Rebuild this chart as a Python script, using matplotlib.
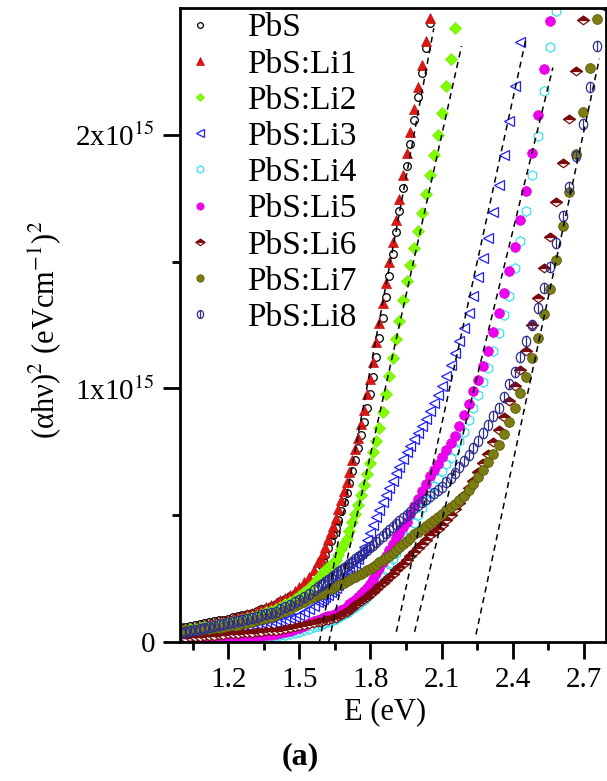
import numpy as np
import matplotlib
matplotlib.use("Agg")
import matplotlib.pyplot as plt
from matplotlib.path import Path
from matplotlib.legend_handler import HandlerTuple

plt.rcParams['font.family'] = ['Liberation Serif', 'DejaVu Serif']
plt.rcParams['mathtext.fontset'] = 'stix'

# ---------------- data (y in units of 1e15 eV^2 cm^-2) ----------------
energy = [1.00, 1.02, 1.04, 1.06, 1.08, 1.10, 1.12, 1.14, 1.16, 1.18,
          1.20, 1.22, 1.24, 1.26, 1.28, 1.30, 1.32, 1.34, 1.36, 1.38,
          1.40, 1.42, 1.44, 1.46, 1.48, 1.50, 1.52, 1.54, 1.56, 1.58,
          1.590, 1.600, 1.610, 1.621, 1.632, 1.642, 1.653, 1.664, 1.676, 1.687,
          1.699, 1.710, 1.722, 1.734, 1.746, 1.759, 1.771, 1.784, 1.797, 1.810,
          1.824, 1.837, 1.851, 1.865, 1.879, 1.893, 1.908, 1.922, 1.938, 1.953,
          1.968, 1.984, 2.000, 2.016, 2.033, 2.050, 2.067, 2.084, 2.102, 2.120,
          2.138, 2.157, 2.175, 2.195, 2.214, 2.234, 2.255, 2.275, 2.296, 2.318,
          2.340, 2.362, 2.385, 2.408, 2.431, 2.455, 2.480, 2.505, 2.531, 2.557,
          2.583, 2.611, 2.638, 2.667, 2.696, 2.725, 2.756, 2.787]

pbs = [.058, .061, .064, .068, .071, .074, .078, .081, .085, .088,
       .092, .097, .101, .106, .110, .115, .122, .129, .136, .143,
       .150, .160, .170, .180, .190, .200, .218, .236, .260, .290,
       .305, .320, .344, .370, .397, .421, .449, .482, .518, .551,
       .587, .628, .674, .719, .765, .818, .868, .923, .977, 1.046,
       1.124, 1.197, 1.276, 1.360, 1.444, 1.528, 1.616, 1.698, 1.790, 1.877,
       1.964, 2.057, 2.150, 2.243, 2.341, 2.440]

pbs_li1 = [.050, .054, .057, .061, .064, .068, .072, .076, .080, .084,
           .088, .093, .099, .104, .110, .115, .123, .131, .139, .147,
           .155, .165, .175, .187, .201, .215, .235, .255, .282, .316,
           .333, .350, .376, .405, .433, .459, .489, .523, .561, .595,
           .632, .672, .716, .761, .805, .861, .916, .976, 1.036, 1.106,
           1.184, 1.257, 1.336, 1.417, 1.498, 1.579, 1.666, 1.748, 1.840, 1.927,
           2.011, 2.100, 2.190, 2.276, 2.368, 2.460]

pbs_li2 = [.045, .048, .050, .053, .055, .058, .061, .064, .068, .071,
           .074, .079, .084, .088, .093, .098, .104, .111, .117, .124,
           .130, .139, .148, .158, .169, .180, .196, .212, .231, .253,
           .264, .275, .284, .294, .304, .313, .325, .345, .367, .387,
           .408, .438, .472, .505, .539, .580, .619, .662, .705, .748,
           .794, .842, .905, .977, 1.048, 1.120, 1.196, 1.267, 1.349, 1.423,
           1.486, 1.553, 1.620, 1.690, 1.765, 1.840, 1.919, 1.998, 2.087, 2.193,
           2.299, 2.420]

pbs_li3 = [.020, .022, .024, .026, .028, .030, .032, .035, .037, .040,
           .042, .045, .047, .050, .052, .055, .059, .063, .067, .071,
           .075, .081, .087, .093, .099, .105, .117, .129, .142, .156,
           .163, .170, .178, .187, .196, .204, .213, .224, .236, .247,
           .259, .275, .293, .311, .329, .352, .376, .403, .428, .462,
           .493, .522, .552, .580, .608, .636, .665, .692, .722, .750,
           .774, .799, .825, .852, .881, .910, .942, .975, 1.010, 1.050,
           1.092, 1.140, 1.185, 1.237, 1.296, 1.364, 1.438, 1.513, 1.593, 1.696,
           1.802, 1.920, 2.053, 2.193, 2.365]

pbs_li4 = [.004, .004, .005, .005, .006, .006, .007, .008, .008, .009,
           .010, .011, .012, .013, .014, .015, .016, .018, .019, .021,
           .022, .026, .029, .033, .036, .040, .046, .052, .058, .064,
           .067, .070, .074, .078, .083, .087, .092, .097, .103, .109,
           .115, .123, .131, .139, .147, .157, .167, .177, .188, .204,
           .224, .242, .261, .284, .306, .329, .351, .371, .393, .415,
           .442, .471, .500, .529, .559, .590, .617, .644, .673, .700,
           .727, .758, .792, .830, .874, .922, .973, 1.025, 1.079, 1.148,
           1.218, 1.290, 1.366, 1.473, 1.580, 1.700, 1.842, 1.994, 2.171, 2.348,
           2.490]

pbs_li5 = [.005, .006, .006, .007, .007, .008, .009, .009, .010, .011,
           .012, .014, .015, .017, .018, .020, .022, .024, .026, .028,
           .030, .035, .040, .045, .050, .055, .064, .073, .081, .088,
           .091, .095, .098, .101, .104, .108, .112, .118, .126, .132,
           .139, .148, .158, .167, .177, .190, .201, .214, .227, .247,
           .271, .293, .317, .339, .362, .385, .411, .431, .453, .474,
           .506, .535, .565, .595, .624, .655, .679, .703, .728, .756,
           .783, .814, .853, .895, .940, .989, 1.034, 1.090, 1.149, 1.223,
           1.298, 1.376, 1.463, 1.557, 1.666, 1.780, 1.930, 2.080, 2.260, 2.450]

pbs_li6 = [.015, .016, .018, .019, .021, .022, .024, .025, .027, .028,
           .030, .031, .033, .034, .036, .037, .039, .040, .042, .043,
           .045, .048, .052, .055, .059, .062, .066, .070, .074, .078,
           .080, .082, .085, .087, .090, .093, .096, .102, .108, .113,
           .120, .127, .135, .144, .152, .161, .170, .179, .188, .198,
           .209, .220, .231, .244, .256, .269, .282, .295, .309, .323,
           .338, .354, .370, .386, .403, .420, .434, .447, .462, .482,
           .502, .525, .550, .578, .606, .636, .669, .705, .743, .788,
           .834, .886, .949, 1.010, 1.073, 1.146, 1.251, 1.358, 1.474, 1.597,
           1.735, 1.890, 2.061, 2.253, 2.452]

pbs_li7 = [.045, .046, .047, .048, .049, .050, .052, .055, .057, .060,
           .062, .066, .069, .073, .076, .080, .085, .090, .095, .100,
           .105, .114, .123, .132, .141, .150, .159, .168, .177, .186,
           .191, .195, .200, .204, .209, .214, .219, .224, .229, .234,
           .240, .245, .251, .257, .263, .270, .276, .282, .289, .297,
           .305, .314, .323, .332, .341, .350, .361, .373, .386, .399,
           .412, .426, .435, .446, .458, .470, .482, .494, .506, .519,
           .532, .546, .560, .576, .598, .624, .652, .680, .709, .742,
           .778, .819, .868, .921, .981, 1.045, 1.120, 1.198, 1.292, 1.392,
           1.508, 1.640, 1.775, 1.924, 2.088, 2.265, 2.457]

pbs_li8 = [.035, .039, .043, .047, .051, .055, .059, .063, .067, .071,
           .075, .079, .083, .087, .091, .095, .100, .105, .110, .115,
           .120, .129, .138, .147, .156, .165, .178, .191, .204, .217,
           .224, .230, .237, .245, .252, .259, .267, .275, .283, .291,
           .299, .308, .317, .326, .335, .344, .353, .363, .373, .383,
           .395, .406, .418, .430, .442, .454, .466, .478, .490, .502,
           .514, .527, .540, .551, .563, .575, .587, .599, .612, .630,
           .648, .668, .690, .714, .738, .764, .793, .824, .856, .890,
           .924, .967, 1.018, 1.064, 1.125, 1.188, 1.250, 1.316, 1.396, 1.478,
           1.573, 1.681, 1.795, 1.917, 2.043, 2.190, 2.351, 2.510]

labels = ['PbS', 'PbS:Li1', 'PbS:Li2', 'PbS:Li3', 'PbS:Li4',
          'PbS:Li5', 'PbS:Li6', 'PbS:Li7', 'PbS:Li8']

# linear (Tauc) fits: start/end energy and value
fit_e0 = [1.585, 1.624, 1.909, 1.986, 2.245]
fit_y0 = [0.00, 0.00, 0.04, 0.04, 0.03]
fit_e1 = [2.067, 2.184, 2.456, 2.569, 2.765]
fit_y1 = [2.42, 2.35, 2.38, 2.265, 2.30]

xticks = [1.2, 1.5, 1.8, 2.1, 2.4, 2.7]
xtick_labels = ['1.2', '1.5', '1.8', '2.1', '2.4', '2.7']
xminor = [1.05, 1.35, 1.65, 1.95, 2.25, 2.55]
yticks = [0.0, 1.0, 2.0]
ytick_labels = ['0', r'1x10$^{15}$', r'2x10$^{15}$']
yminor = [0.5, 1.5]

SCALE = 1e15

# ---------------- figure ----------------
W, H = 607, 781
fig = plt.figure(figsize=(W / 100, H / 100), dpi=100)
ax = fig.add_axes([180 / W, 1 - 642 / H, 426 / W, 634 / H])

E = np.array(energy)


def pts(vals):
    v = np.array(vals) * SCALE
    return E[:len(v)], v


# custom markers
circ = Path.unit_circle()
theta_verts = np.vstack([circ.vertices * np.array([0.8, 1.0]), [[0, -1], [0, 1]]])
theta_codes = np.concatenate([circ.codes, [Path.MOVETO, Path.LINETO]])
theta_marker = Path(theta_verts, theta_codes)
flat_diamond = Path([(-1, 0), (0, 0.72), (1, 0), (0, -0.72), (-1, 0)],
                    [Path.MOVETO, Path.LINETO, Path.LINETO, Path.LINETO, Path.CLOSEPOLY])
half_diamond = Path([(-1, 0), (0, 0.72), (1, 0), (-1, 0)],
                    [Path.MOVETO, Path.LINETO, Path.LINETO, Path.CLOSEPOLY])

handles = []
x, y = pts(pbs)
handles.append(ax.plot(x, y, ls='none', marker='o', ms=5.5, mfc='none', mec='black', mew=0.9)[0])
x, y = pts(pbs_li1)
handles.append(ax.plot(x, y, ls='none', marker='^', ms=7.5, mfc='#dd1515', mec='#c01010', mew=0.5)[0])
x, y = pts(pbs_li2)
handles.append(ax.plot(x, y, ls='none', marker='D', ms=5.8, mfc='#80ff00', mec='#70e800', mew=0.5)[0])
x, y = pts(pbs_li3)
handles.append(ax.plot(x, y, ls='none', marker='<', ms=7, mfc='none', mec='#1f1fff', mew=0.9)[0])
x, y = pts(pbs_li4)
handles.append(ax.plot(x, y, ls='none', marker='h', ms=7, mfc='none', mec='#3de0f0', mew=0.9)[0])
x, y = pts(pbs_li5)
handles.append(ax.plot(x, y, ls='none', marker='o', ms=7, mfc='#ee00ee', mec='#dd00dd', mew=0.5)[0])
x, y = pts(pbs_li6)
h6a = ax.plot(x, y, ls='none', marker=flat_diamond, ms=8.5, mfc='white', mec='#7a0c0c', mew=0.9)[0]
h6b = ax.plot(x, y, ls='none', marker=half_diamond, ms=8.5, mfc='#7a0c0c', mec='#7a0c0c', mew=0.9)[0]
handles.append((h6a, h6b))
x, y = pts(pbs_li7)
handles.append(ax.plot(x, y, ls='none', marker='o', ms=7, mfc='#7d7d14', mec='#5a5a0a', mew=0.6)[0])
x, y = pts(pbs_li8)
handles.append(ax.plot(x, y, ls='none', marker=theta_marker, ms=7.5, mfc='none', mec='#2e2e8c', mew=0.9)[0])

for e0, y0, e1, y1 in zip(fit_e0, fit_y0, fit_e1, fit_y1):
    ax.plot([e0, e1], [y0 * SCALE, y1 * SCALE], color='black', lw=1.1, ls=(0, (4, 3)))

ax.set_xlim(0.997, 2.793)
ax.set_ylim(0, 2.5 * SCALE)
ax.set_xticks(xticks)
ax.set_xticklabels(xtick_labels)
ax.set_xticks(xminor, minor=True)
ax.set_yticks([t * SCALE for t in yticks])
ax.set_yticklabels(ytick_labels)
ax.set_yticks([t * SCALE for t in yminor], minor=True)
ax.tick_params(which='major', direction='out', length=12, width=2, labelsize=21, pad=6)
ax.tick_params(which='minor', direction='out', length=6, width=2)
for s in ax.spines.values():
    s.set_linewidth(2)

ax.legend(handles, labels, loc='upper left', bbox_to_anchor=(0.005, 1.0), frameon=False,
          fontsize=24, handlelength=0.8, handletextpad=1.0, labelspacing=0.17,
          borderpad=0.0, borderaxespad=0.15, markerscale=0.75,
          handler_map={tuple: HandlerTuple(ndivide=1)})

fig.text(45 / W, 1 - 330 / H, '(αhν)$^{2}$ (eVcm$^{-1}$)$^{2}$', rotation=90,
         ha='center', va='center', fontsize=22)
fig.text(385 / W, 1 - 712 / H, 'E (eV)', ha='center', va='center', fontsize=22)
fig.text(300 / W, 1 - 757 / H, '(a)', ha='center', va='center', fontsize=23, fontweight='bold')

fig.savefig('out.png', dpi=100)
